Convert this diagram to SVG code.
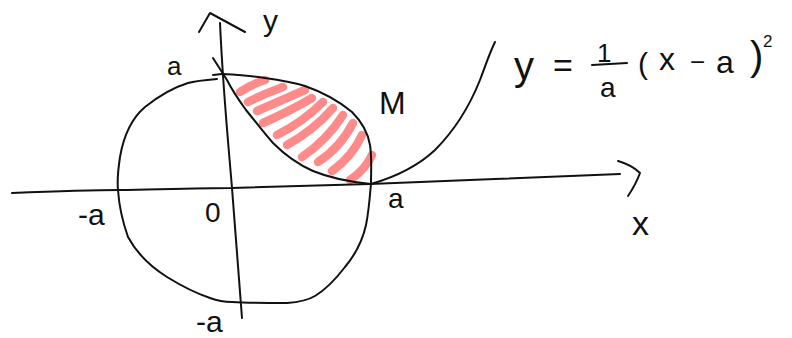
<svg xmlns="http://www.w3.org/2000/svg" width="792" height="338" viewBox="0 0 792 338">
<style>
.ink{fill:none;stroke:#111;stroke-width:2;stroke-linecap:round;stroke-linejoin:round}
.hatch{fill:none;stroke:#ff8a8a;stroke-width:8.5;stroke-linecap:round}
.t{font-family:"Liberation Sans","DejaVu Sans",sans-serif;fill:#111}
</style>
<rect width="792" height="338" fill="#fff"/>
<g id="hatching">
<path class="hatch" d="M240,92 Q252,84 265,80"/>
<path class="hatch" d="M248,102 Q266,93 283,87"/>
<path class="hatch" d="M257,111 Q282,100 305,90"/>
<path class="hatch" d="M263,123 Q290,111 312,98"/>
<path class="hatch" d="M277,135 Q303,122 323,102"/>
<path class="hatch" d="M287,145 Q314,130 333,108"/>
<path class="hatch" d="M302,157 Q327,140 343,115"/>
<path class="hatch" d="M318,162 Q340,148 353,123"/>
<path class="hatch" d="M332,171 Q352,157 362,135"/>
<path class="hatch" d="M350,180 Q365,170 372,155"/>
</g>
<g id="axes">
<path class="ink" d="M12,193 C60,191 100,190 120,190 C170,189 205,188 232,188 C290,186 330,185 370,184 C450,181 540,177 620,174"/>
<path class="ink" d="M618,161 Q632,165 640,173 Q636,184 628,196"/>
<path class="ink" d="M220,23 C223,90 228,140 232,188 C236,240 239,280 242,318"/>
<path class="ink" d="M199,32 L210,13 L245,32"/>
</g>
<g id="circle">
<path class="ink" d="M217,79 C205,80 195,81 188,83 C175,87 160,95 145,107 C132,118 124,134 120,157 C118,170 117,180 118,190 C119,205 122,220 128,237 C135,250 148,265 167,277 C180,285 195,293 210,298 C218,301 225,302 232,302 C250,303 270,303 287,303 C300,302 310,299 315,296 C325,290 335,280 345,267 C355,255 362,243 366,225 C369,210 370,195 371,183"/>
<path class="ink" d="M222,74 C240,75 255,76 265,78 C280,80 292,82 305,86 C325,93 340,102 352,112 C362,122 368,133 370,145 C372,158 371,170 371,183"/>
</g>
<g id="parabola">
<path class="ink" d="M213,58 C218,66 222,72 227,80 C232,90 238,99 246,110 C255,121 264,133 273,143 C285,155 297,164 313,171 C330,178 350,182 371,184"/>
<path class="ink" d="M371,184 C395,177 418,166 435,150 C455,130 470,105 480,80 C486,64 490,52 495,42"/>
<path class="ink" d="M213,75 L222,74"/>
</g>
<g id="labels">
<text class="t" x="167" y="75" font-size="26">a</text>
<text class="t" x="263" y="31" font-size="30">y</text>
<text class="t" x="379" y="114" font-size="32">M</text>
<text class="t" x="388" y="208" font-size="28">a</text>
<text class="t" x="78" y="225" font-size="30">-a</text>
<text class="t" x="205" y="222" font-size="28">0</text>
<text class="t" x="196" y="332" font-size="30">-a</text>
<text class="t" x="632" y="235" font-size="34">x</text>
</g>
<g id="formula">
<text class="t" x="514" y="80" font-size="40">y</text>
<text class="t" x="553" y="77" font-size="34">=</text>
<text class="t" x="597" y="62" font-size="26">1</text>
<path class="ink" d="M592,65 L627,63"/>
<text class="t" x="600" y="97" font-size="28">a</text>
<text class="t" x="638" y="74" font-size="30">(</text>
<text class="t" x="659" y="70" font-size="32">x</text>
<text class="t" x="690" y="71" font-size="26">−</text>
<text class="t" x="716" y="73" font-size="32">a</text>
<text class="t" x="750" y="70" font-size="40">)</text>
<text class="t" x="763" y="47" font-size="17">2</text>
</g>
</svg>
